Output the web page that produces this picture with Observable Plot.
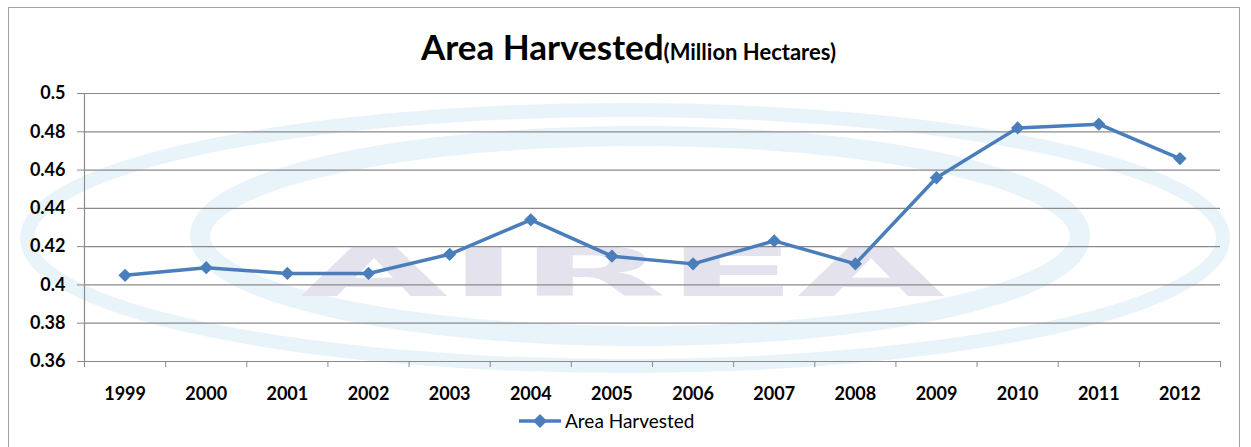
<!DOCTYPE html>
<html>
<head>
<meta charset="utf-8">
<script src="https://cdn.jsdelivr.net/npm/d3@7"></script>
<script src="https://cdn.jsdelivr.net/npm/@observablehq/plot@0.6"></script>
<style>
  html, body { margin: 0; padding: 0; background: #fff; }
  #page { position: relative; width: 1251px; height: 447px; overflow: hidden; font-family: Lato, "Open Sans", sans-serif; color: #000; }
  #frame { position: absolute; left: 8px; top: 7px; width: 1232px; height: 460px; border: 1.5px solid #a3a3a3; box-sizing: border-box; }
  #watermark { position: absolute; left: 0; top: 0; }
  #chart { position: absolute; left: 0; top: 0; }
  #title { position: absolute; left: 0; width: 1257px; top: 25px; text-align: center; white-space: nowrap; }
  #title .main { font-size: 35px; font-weight: 700; }
  #title .unit { font-size: 22px; font-weight: 700; }
  #legend { position: absolute; left: 518px; top: 409px; display: flex; align-items: center; font-size: 19px; white-space: nowrap; }
  #legend svg { margin-right: 3px; }
</style>
</head>
<body>
<div id="page">
  <div id="frame"></div>
  <svg id="watermark" width="1251" height="447">
    <g fill="none" stroke="#dcedf8" opacity="0.6">
      <ellipse cx="625" cy="238" rx="598" ry="128" stroke-width="14"/>
      <ellipse cx="640" cy="236" rx="440" ry="100" stroke-width="20"/>
    </g>
    <text x="300" y="296" font-family="DejaVu Sans" font-weight="bold" font-size="68" fill="#e4e2ec"
          textLength="645" lengthAdjust="spacingAndGlyphs">AIREA</text>
  </svg>
  <div id="chart"></div>
  <div id="title"><span class="main">Area Harvested</span><span class="unit">(Million Hectares)</span></div>
  <div id="legend"></div>
</div>
<script>
// Yearly harvested area, million hectares
const years = [1999, 2000, 2001, 2002, 2003, 2004, 2005, 2006, 2007, 2008, 2009, 2010, 2011, 2012];
const areaHarvested = [0.405, 0.409, 0.406, 0.406, 0.416, 0.434, 0.415, 0.411, 0.423, 0.411, 0.456, 0.482, 0.484, 0.466];
const yTicks = [0.36, 0.38, 0.40, 0.42, 0.44, 0.46, 0.48, 0.50];
const seriesName = "Area Harvested";

const lineColor = "#4a7ebb";
const gridColor = "#8a8a8a";

const rows = years.map((year, i) => ({year, value: areaHarvested[i]}));
// category boundaries between the years, where the x-axis ticks sit
const bounds = [...years.map(y => y - 0.5), years[years.length - 1] + 0.5];

const chart = Plot.plot({
  width: 1251,
  height: 447,
  marginLeft: 84,
  marginRight: 31,
  marginTop: 93,
  marginBottom: 86,
  style: {background: "transparent", fontFamily: "Lato, 'Open Sans', sans-serif", fontSize: "18px", fontWeight: "bold", color: "#000"},
  x: {domain: [bounds[0], bounds[bounds.length - 1]], axis: null},
  y: {domain: [yTicks[0], yTicks[yTicks.length - 1]], axis: null},
  marks: [
    Plot.gridY(yTicks, {stroke: gridColor, strokeOpacity: 1, strokeWidth: 1.2}),
    Plot.ruleX([bounds[0]], {stroke: gridColor, strokeWidth: 1.2}),
    Plot.axisY(yTicks, {tickSize: 7, tickPadding: 12, stroke: gridColor, fill: "#000", label: null,
      tickFormat: d => String(+d.toFixed(2))}),
    Plot.axisX(bounds, {tickSize: 6, stroke: gridColor, label: null, tickFormat: () => ""}),
    Plot.axisX(years, {tickSize: 0, tickPadding: 26, fill: "#000", label: null, tickFormat: d => String(d)}),
    Plot.line(rows, {x: "year", y: "value", stroke: lineColor, strokeWidth: 3.5}),
    Plot.dot(rows, {x: "year", y: "value", symbol: "diamond2", r: 6, fill: lineColor, stroke: null})
  ]
});
document.getElementById("chart").appendChild(chart);

// series key below the axis
const legend = document.getElementById("legend");
legend.innerHTML = `<svg width="44" height="20">
  <line x1="1" y1="10" x2="43" y2="10" stroke="${lineColor}" stroke-width="3.5"/>
  <path d="M22,3 L29,10 L22,17 L15,10 Z" fill="${lineColor}"/>
</svg><span>${seriesName}</span>`;
</script>
</body>
</html>
